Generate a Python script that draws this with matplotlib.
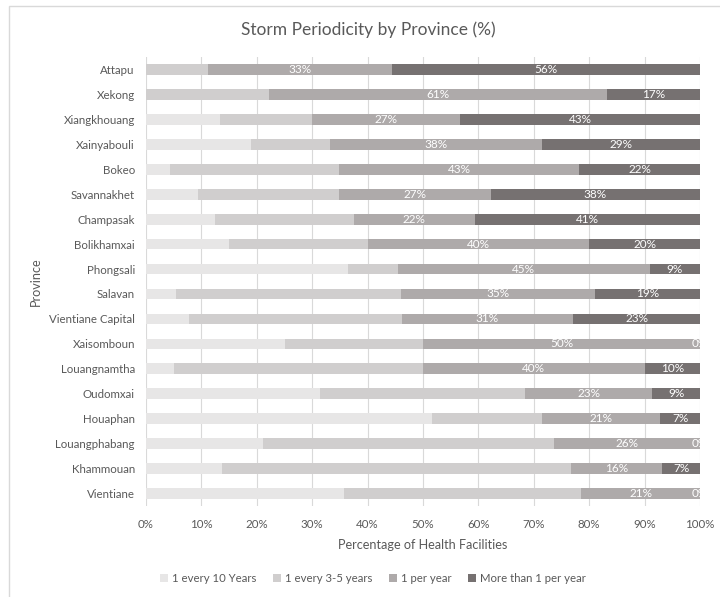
import numpy as np
import matplotlib
matplotlib.use('Agg')
import matplotlib.pyplot as plt
from matplotlib.patches import Rectangle

plt.rcParams['font.family'] = ['Lato', 'DejaVu Sans']

# Data (percent of health facilities)
provinces = ['Attapu', 'Xekong', 'Xiangkhouang', 'Xainyabouli', 'Bokeo', 'Savannakhet',
             'Champasak', 'Bolikhamxai', 'Phongsali', 'Salavan', 'Vientiane Capital',
             'Xaisomboun', 'Louangnamtha', 'Oudomxai', 'Houaphan', 'Louangphabang',
             'Khammouan', 'Vientiane']
every_10 = [0.0, 0.0, 13.3, 19.0, 4.3, 9.3, 12.5, 15.0, 36.4, 5.4, 7.7,
            25.0, 5.0, 31.4, 51.7, 21.1, 13.7, 35.7]
every_3_5 = [11.1, 22.2, 16.7, 14.3, 30.5, 25.5, 25.0, 25.0, 9.1, 40.6, 38.5,
             25.0, 45.0, 37.1, 19.7, 52.6, 63.1, 42.9]
per_year = [33.3, 61.1, 26.7, 38.1, 43.4, 27.4, 21.9, 40.0, 45.4, 35.1, 30.8,
            50.0, 40.0, 22.9, 21.4, 26.3, 16.4, 21.4]
more_than_1 = [55.6, 16.7, 43.3, 28.6, 21.8, 37.8, 40.6, 20.0, 9.1, 18.9, 23.1,
               0.0, 10.0, 8.6, 7.2, 0.0, 6.8, 0.0]

series_names = ['1 every 10 Years', '1 every 3-5 years', '1 per year', 'More than 1 per year']
colors = ['#e7e6e6', '#d0cece', '#aeaaaa', '#767171']
labelled = [False, False, True, True]

fig = plt.figure(figsize=(7.2, 5.97), dpi=100)
ax = fig.add_axes([0.2028, 0.1524, 0.7694, 0.7521])

# chart border (crop of a larger chart area)
fig.patches.append(Rectangle((9 / 720, -0.1), 1.2, 1 - 6 / 597 + 0.1, transform=fig.transFigure,
                             fill=False, edgecolor='#d9d9d9', linewidth=1))

y = np.arange(len(provinces))
left = np.zeros(len(provinces))
for vals, name, col, lab in zip([every_10, every_3_5, per_year, more_than_1],
                                series_names, colors, labelled):
    vals = np.array(vals)
    ax.barh(y, vals, left=left, height=0.43, color=col, label=name, zorder=2)
    if lab:
        for yi, l, v in zip(y, left, vals):
            ax.text(l + v / 2, yi, f'{v:.0f}%', ha='center', va='center', color='white',
                    fontsize=8.5, zorder=3, clip_on=True)
    left += vals

ax.set_xlim(0, 100)
ax.set_ylim(len(provinces) - 0.5, -0.5)
ax.set_yticks(y)
ax.set_yticklabels(provinces)
ax.set_xticks(np.arange(0, 101, 10))
ax.set_xticklabels([f'{t}%' for t in range(0, 101, 10)])
ax.tick_params(length=0, colors='#595959', labelsize=8.3)
ax.tick_params(axis='x', pad=9)
ax.tick_params(axis='y', pad=8)
ax.grid(axis='x', color='#d9d9d9', linewidth=0.8, zorder=0)
for s in ax.spines.values():
    s.set_visible(False)

ax.set_xlabel('Percentage of Health Facilities', fontsize=9.1, color='#595959', labelpad=7)
ax.set_ylabel('Province', fontsize=9.1, color='#595959', labelpad=5)

fig.text(368 / 720, 1 - 30 / 597, 'Storm Periodicity by Province (%)', ha='center', va='center',
         fontsize=12.5, color='#595959')

fig.legend(loc='center', bbox_to_anchor=(373 / 720, 1 - 578 / 597), ncol=4, frameon=False,
           fontsize=8.2, handlelength=0.7, handleheight=0.7, handletextpad=0.3,
           columnspacing=1.5, labelcolor='#595959')

fig.savefig('out.png', dpi=100)
